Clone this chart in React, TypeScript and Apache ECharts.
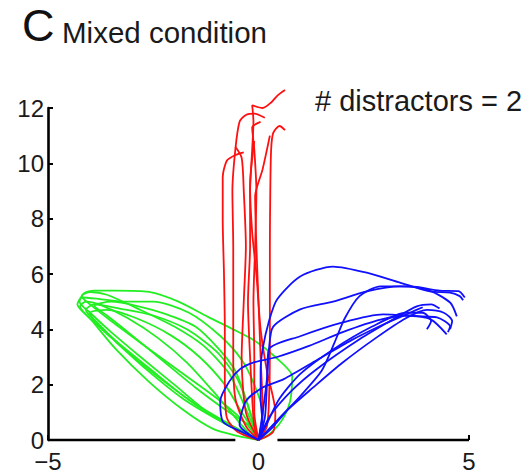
import React, { useEffect, useRef } from 'react';
import * as echarts from 'echarts';

const xTicks = [-5, 0, 5];
const yTicks = [0, 2, 4, 6, 8, 10, 12];
const titleLetter = 'C';
const titleText = 'Mixed condition';
const annotation = '# distractors = 2';

// Trajectories (x, y)
const redTrials: number[][][] = [
  [[0, 0], [-0.1, 0.5], [-0.15, 1.5], [-0.2, 3], [-0.25, 5], [-0.2, 7], [-0.2, 9], [-0.15, 10.5], [-0.12, 11.5], [-0.15, 12.1], [0.1, 12.0], [0.3, 12.2], [0.45, 12.45], [0.63, 12.65]],
  [[0, 0], [-0.3, 0.5], [-0.55, 1.5], [-0.6, 3], [-0.6, 5], [-0.6, 7], [-0.62, 9], [-0.55, 10.5], [-0.45, 11.5], [-0.3, 11.75], [-0.1, 11.8], [0.15, 11.65]],
  [[0, 0], [-0.5, 0.3], [-0.75, 0.8], [-0.8, 2], [-0.8, 4], [-0.82, 6], [-0.85, 8], [-0.85, 9.5], [-0.75, 10.1], [-0.55, 10.3], [-0.35, 10.4]],
  [[0, 0], [0.2, 0.5], [0.25, 1.5], [0.27, 3], [0.27, 5], [0.27, 7], [0.28, 9], [0.3, 10.5], [0.35, 11.1], [0.5, 11.35], [0.63, 11.2]],
  [[0, 0], [-0.1, 1], [-0.1, 3], [-0.12, 5], [-0.08, 7], [-0.05, 9], [-0.1, 10.5], [-0.15, 11.3], [0.05, 11.5]],
  [[0, 0], [0.1, 1], [0.05, 3], [0, 5], [-0.05, 7], [-0.08, 8.8], [0.1, 9.8], [0.27, 11.0]],
  [[0, 0], [-0.3, 1], [-0.4, 3], [-0.35, 5], [-0.3, 7], [-0.35, 9], [-0.4, 10.2], [-0.55, 10.6]],
  [[0, 0], [0.35, 0.3], [0.4, 1], [0.2, 2.5], [0.05, 4], [-0.05, 6], [-0.15, 7.5], [-0.2, 9.2], [-0.1, 10.8]],
];

const greenTrials: number[][][] = [
  [[0, 0], [-0.5, 0.4], [-1.2, 1.0], [-2.0, 2.0], [-2.8, 3.0], [-3.5, 3.9], [-4.0, 4.6], [-4.25, 5.0], [-4.15, 5.3], [-3.9, 5.4], [-3.4, 5.4], [-2.6, 5.35], [-1.9, 5.0], [-1.2, 4.45], [-0.6, 4.0], [-0.1, 3.6], [0.4, 3.0], [0.8, 2.3], [0.75, 1.4], [0.55, 0.7], [0.25, 0.2], [0, 0]],
  [[0, 0], [-0.4, 0.3], [-1.0, 0.76], [-1.8, 1.5], [-2.7, 2.6], [-3.5, 3.7], [-4.0, 4.4], [-4.3, 4.9], [-4.2, 5.15], [-3.8, 5.1], [-3.2, 5.0], [-2.5, 5.0], [-1.65, 4.6], [-0.9, 3.75], [-0.4, 2.9], [-0.1, 2.0], [0.1, 1.0], [0.05, 0.3], [0, 0]],
  [[0, 0], [-0.6, 0.5], [-1.5, 1.3], [-2.4, 2.3], [-3.2, 3.3], [-3.8, 4.2], [-4.1, 4.7], [-3.9, 4.9], [-3.3, 4.75], [-2.5, 4.5], [-1.7, 4.0], [-1.0, 3.2], [-0.5, 2.2], [-0.2, 1.0], [0, 0]],
  [[0, 0], [-0.8, 0.6], [-1.7, 1.5], [-2.6, 2.6], [-3.4, 3.6], [-3.9, 4.3], [-4.0, 4.6], [-3.6, 4.7], [-2.9, 4.4], [-2.1, 3.8], [-1.4, 3.0], [-0.8, 2.0], [-0.4, 1.0], [-0.1, 0.3], [0, 0]],
  [[0, 0], [-0.3, 0.6], [-0.9, 1.4], [-1.8, 2.4], [-2.7, 3.4], [-3.5, 4.3], [-4.0, 4.9], [-4.2, 5.2], [-4.0, 5.35], [-3.6, 5.25], [-2.8, 4.7], [-2.0, 4.1], [-1.3, 3.4], [-0.7, 2.4], [-0.35, 1.3], [-0.1, 0.4], [0, 0]],
  [[0, 0], [-0.5, 0.15], [-1.08, 0.4], [-1.8, 1.1], [-2.6, 2.1], [-3.4, 3.3], [-3.95, 4.3], [-4.24, 4.83], [-4.1, 5.0], [-3.7, 4.85], [-3.1, 4.4], [-2.4, 3.7], [-1.7, 2.8], [-1.1, 1.8], [-0.6, 0.9], [-0.2, 0.2], [0, 0]],
  [[0, 0], [-0.2, 0.5], [-0.7, 1.0], [-1.5, 1.9], [-2.3, 2.9], [-3.1, 3.9], [-3.6, 4.5], [-3.9, 4.85], [-3.5, 5.0], [-2.9, 4.85], [-2.2, 4.55], [-1.5, 4.1], [-0.95, 3.3], [-0.55, 2.5], [-0.3, 1.5], [-0.1, 0.5], [0, 0]],
];

const blueTrials: number[][][] = [
  [[0, 0], [0.1, 0.5], [0.05, 1.5], [0.05, 2.5], [0.1, 3.3], [0.25, 4.3], [0.44, 5.08], [0.99, 5.91], [1.77, 6.27], [2.57, 6.05], [3.36, 5.69], [4.07, 5.37], [4.55, 5.33], [4.78, 5.2], [4.86, 5.05]],
  [[0, 0], [0.15, 0.8], [0.2, 2.0], [0.25, 3.3], [0.35, 4.1], [0.99, 4.72], [1.77, 5.0], [2.57, 5.37], [3.36, 5.55], [4.0, 5.44], [4.55, 4.97], [4.71, 4.47]],
  [[0, 0], [0.1, 1], [0.2, 2.2], [0.25, 3.28], [0.99, 3.75], [2.0, 4.25], [2.96, 4.54], [3.76, 4.47], [4.24, 4.43], [4.55, 4.1], [4.5, 3.9]],
  [[0, 0], [0.27, 0.86], [0.8, 1.8], [1.38, 2.56], [2.4, 3.64], [3.2, 4.36], [3.76, 4.83], [4.1, 4.9], [4.3, 4.75]],
  [[0, 0], [0.5, 0.8], [1.0, 1.6], [1.5, 2.5], [1.8, 3.5], [2.05, 4.4], [2.4, 5.2], [2.9, 5.55], [3.6, 5.55], [4.3, 5.4], [4.75, 5.38], [4.9, 5.15]],
  [[0, 0], [0.3, 0.4], [0.7, 1.1], [1.3, 1.9], [2.0, 2.8], [2.8, 3.7], [3.5, 4.4], [4.0, 4.7], [4.4, 4.6], [4.6, 4.3], [4.55, 4.0]],
  [[0, 0], [0.2, 0.6], [0.5, 1.5], [1.0, 2.4], [1.8, 3.3], [2.7, 4.1], [3.5, 4.6], [3.9, 4.6], [4.1, 4.3], [4.0, 4.0]],
  [[0, 0], [-0.4, 0.3], [-0.84, 0.65], [-0.91, 1.4], [-0.7, 2.1], [-0.44, 2.56], [-0.13, 2.8], [0.44, 3.0], [1.2, 3.4], [2.0, 3.9], [2.9, 4.35], [3.6, 4.5], [4.1, 4.35], [4.47, 3.82]],
  [[0, 0], [-0.45, 0.55], [-0.3, 1.4], [0.1, 1.9], [0.6, 2.2], [1.4, 2.9], [2.2, 3.6], [3.0, 4.2], [3.6, 4.6], [3.9, 4.8]],
];

const axisLeft = [[-5, 0], [-0.55, 0]];
const axisRight = [[0.45, 0], [5, 0]];

const FONT = '"Liberation Sans", Arial, Helvetica, sans-serif';

export default function App() {
  const ref = useRef<HTMLDivElement>(null);
  useEffect(() => {
    const chart = echarts.init(ref.current!, null, { renderer: 'svg' });
    const mk = (data: number[][], color: string, width: number, z: number) => ({
      type: 'line',
      data,
      showSymbol: false,
      symbol: 'none',
      clip: false,
      smooth: 0.25,
      silent: true,
      z,
      lineStyle: { color, width },
    });
    const series: any[] = [];
    series.push({ ...mk(axisLeft, '#000', 2.6, 1), smooth: false });
    series.push({ ...mk(axisRight, '#000', 2.6, 1), smooth: false });
    greenTrials.forEach((d) => series.push(mk(d, '#22ee22', 1.8, 2)));
    redTrials.forEach((d) => series.push(mk(d, '#ff1010', 1.8, 3)));
    blueTrials.forEach((d) => series.push(mk(d, '#1010ff', 1.8, 4)));

    chart.setOption({
      animation: false,
      backgroundColor: '#fff',
      grid: { left: 48, right: 63, top: 108, bottom: 32, containLabel: false },
      xAxis: {
        type: 'value',
        min: xTicks[0],
        max: xTicks[xTicks.length - 1],
        interval: 5,
        axisLine: { show: false, onZero: false },
        axisTick: { show: true, inside: true, length: 5, lineStyle: { color: '#000', width: 2 } },
        axisLabel: {
          fontSize: 24,
          lineHeight: 18,
          color: '#1a1a1a',
          fontFamily: FONT,
          margin: 12,
          formatter: (v: number) => String(v).replace('-', '\u2212'),
        },
        splitLine: { show: false },
      },
      yAxis: {
        type: 'value',
        min: yTicks[0],
        max: yTicks[yTicks.length - 1],
        interval: 2,
        axisLine: { show: true, onZero: false, lineStyle: { color: '#000', width: 2.6 } },
        axisTick: { show: true, inside: true, length: 5, lineStyle: { color: '#000', width: 2 } },
        axisLabel: { fontSize: 24, lineHeight: 18, color: '#1a1a1a', fontFamily: FONT, margin: 4 },
        splitLine: { show: false },
      },
      graphic: [
        { type: 'text', x: 22, y: 25, style: { text: titleLetter, fontSize: 45, fontFamily: FONT, fill: '#111', verticalAlign: 'middle', align: 'left' } },
        { type: 'text', x: 62, y: 32, style: { text: titleText, fontSize: 29.5, fontFamily: FONT, fill: '#1a1a1a', verticalAlign: 'middle', align: 'left' } },
        { type: 'text', x: 315, y: 101, style: { text: annotation, fontSize: 29, fontFamily: FONT, fill: '#1a1a1a', verticalAlign: 'middle', align: 'left' } },
      ],
      series,
    });
    return () => chart.dispose();
  }, []);
  return <div ref={ref} style={{ position: 'fixed', left: 0, top: 0, width: 532, height: 473 }} />;
}
